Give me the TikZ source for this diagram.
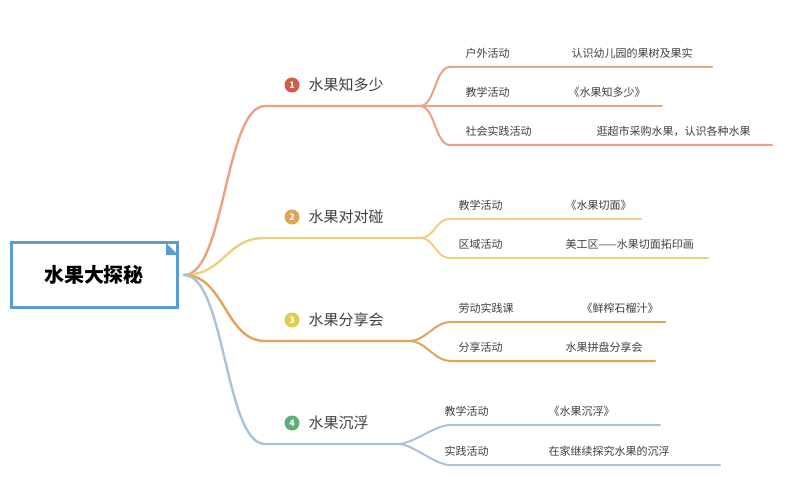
\documentclass[tikz,border=0pt]{standalone}
\usepackage{fontspec}
\setmainfont{Noto Sans CJK SC}
\definecolor{bOne}{HTML}{E9A384}
\definecolor{bTwo}{HTML}{EDD17E}
\definecolor{bThree}{HTML}{E3A456}
\definecolor{bFour}{HTML}{A9C3DF}
\definecolor{rootblue}{HTML}{5B9BD5}
\definecolor{nOne}{HTML}{D65A4A}
\definecolor{nTwo}{HTML}{E0A353}
\definecolor{nThree}{HTML}{E2CC4E}
\definecolor{nFour}{HTML}{5AAE78}
\begin{document}
\begin{tikzpicture}
  [x=1pt,y=-1pt,
   topic/.style={anchor=west,font=\fontsize{15}{15}\selectfont,text=black!75},
   num/.style={circle,fill=#1,text=white,inner sep=1pt,minimum size=15pt,font=\fontsize{9}{9}\selectfont\bfseries},
   leaf/.style={anchor=west,font=\fontsize{11}{11}\selectfont,text=black!75},
   branch/.style={line width=2.4pt,#1,line cap=round},
   twig/.style={line width=2pt,#1,line cap=round},
  ]
  \useasboundingbox[fill=white] (0,0) rectangle (796,500);

  % root
  \node[draw=rootblue,line width=3pt,minimum width=166pt,minimum height=64pt,
        font=\fontsize{20}{20}\selectfont\bfseries] (root) at (94,275) {水果大探秘};
  \fill[rootblue] (166,243) -- (178,255) -- (166,255) -- cycle;
  \coordinate (r) at (184,275);

  % topics
  \node[num=nOne] (n1) at (292,85) {1};
  \node[topic] (t1) at (305,85) {水果知多少};
  \node[num=nTwo] (n2) at (292,217) {2};
  \node[topic] (t2) at (305,217) {水果对对碰};
  \node[num=nThree] (n3) at (292,320) {3};
  \node[topic] (t3) at (305,320) {水果分享会};
  \node[num=nFour] (n4) at (292,423) {4};
  \node[topic] (t4) at (305,423) {水果沉浮};

  \coordinate (f1) at (420,106);
  \coordinate (f2) at (420,238);
  \coordinate (f3) at (410,341);
  \coordinate (f4) at (398,444);

  \draw[branch=bOne] (r) .. controls (225,275) and (225,106) .. (265,106) -- (f1);
  \draw[branch=bTwo] (r) .. controls (225,275) and (225,238) .. (265,238) -- (f2);
  \draw[branch=bThree] (r) .. controls (225,275) and (225,341) .. (265,341) -- (f3);
  \draw[branch=bFour] (r) .. controls (225,275) and (225,444) .. (265,444) -- (f4);

  % leaves
  \foreach \f/\y/\e/\c/\a/\b/\x/\bx in {
      f1/67/712/bOne/户外活动/认识幼儿园的果树及果实/462/568,
      f1/106/662/bOne/教学活动/《水果知多少》/462/565,
      f1/145/772/bOne/社会实践活动/逛超市采购水果，认识各种水果/462/593,
      f2/219/641/bTwo/教学活动/《水果切面》/455/562,
      f2/258/708/bTwo/区域活动/美工区——水果切面拓印画/455/562,
      f3/322/665/bThree/劳动实践课/《鲜榨石榴汁》/455/578,
      f3/361/655/bThree/分享活动/水果拼盘分享会/455/562,
      f4/425/660/bFour/教学活动/《水果沉浮》/441/545,
      f4/465/720/bFour/实践活动/在家继续探究水果的沉浮/441/545} {
    \coordinate (e) at (\e,\y);
    \draw[twig=\c] (\f) .. controls ([xshift=15pt]\f) and (435,\y) .. (450,\y) -- (e);
    \node[leaf] (k) at (\x,\y-14) {\a};
    \node[leaf] (d) at (\bx,\y-14) {\b};
  }
\end{tikzpicture}
\end{document}
